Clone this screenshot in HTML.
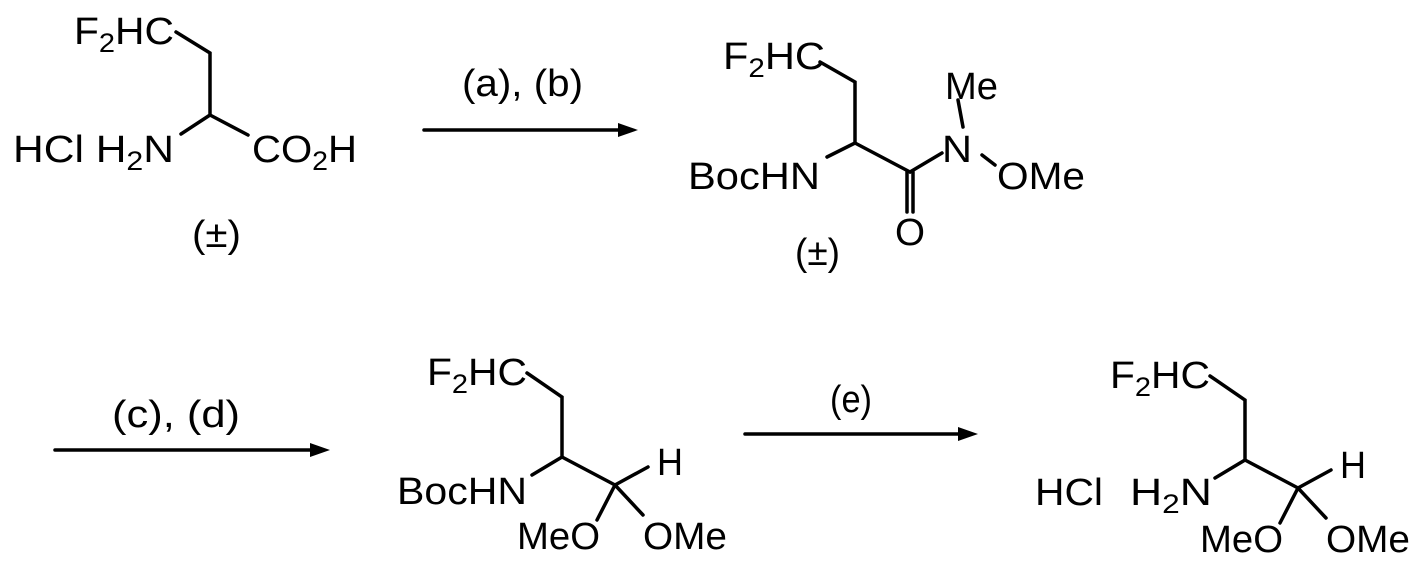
<!DOCTYPE html>
<html><head><meta charset="utf-8"><style>
html,body{margin:0;padding:0;background:#fff;}
svg{display:block;}
text{font-family:"Liberation Sans",Arial,sans-serif;font-size:38px;fill:#000;}
</style></head><body>
<svg width="1425" height="565" viewBox="0 0 1425 565" xmlns="http://www.w3.org/2000/svg">
<g stroke="#000" stroke-width="3.5" fill="none" stroke-linecap="round">
<polyline points="176,32 210,53 210,115 181,134"/>
<line x1="210" y1="115" x2="248" y2="135"/>
<line x1="424" y1="130" x2="620" y2="130"/>
<polyline points="820,62 855,82 855,143 827,157"/>
<line x1="855" y1="143" x2="910" y2="172"/>
<line x1="907" y1="172" x2="907" y2="212"/>
<line x1="913" y1="172" x2="913" y2="212"/>
<line x1="910" y1="172" x2="942" y2="153"/>
<line x1="958" y1="100" x2="963" y2="127"/>
<line x1="982" y1="155" x2="995" y2="165"/>
<line x1="55" y1="450" x2="312" y2="450"/>
<polyline points="527,373 562,397 562,457 532,475"/>
<line x1="562" y1="457" x2="615" y2="485"/>
<line x1="615" y1="485" x2="648" y2="467"/>
<line x1="615" y1="485" x2="597" y2="520"/>
<line x1="615" y1="485" x2="643" y2="515"/>
<line x1="745" y1="434" x2="960" y2="434"/>
<polyline points="1210,376 1245,400 1245,460 1215,478"/>
<line x1="1245" y1="460" x2="1298" y2="488"/>
<line x1="1298" y1="488" x2="1331" y2="470"/>
<line x1="1298" y1="488" x2="1280" y2="523"/>
<line x1="1298" y1="488" x2="1326" y2="518"/>
</g>
<g fill="#000">
<polygon points="638,130 618,123 618,137"/>
<polygon points="330,450 310,443 310,457"/>
<polygon points="978,434 958,427 958,441"/>
</g>
<text x="74" y="44" textLength="100" lengthAdjust="spacingAndGlyphs">F<tspan font-size="27" dy="8">2</tspan><tspan dy="-8">HC</tspan></text>
<text x="13" y="162" textLength="161" lengthAdjust="spacingAndGlyphs">HCl H<tspan font-size="27" dy="8">2</tspan><tspan dy="-8">N</tspan></text>
<text x="252" y="162" textLength="105" lengthAdjust="spacingAndGlyphs">CO<tspan font-size="27" dy="8">2</tspan><tspan dy="-8">H</tspan></text>
<text x="192" y="247" textLength="49" lengthAdjust="spacingAndGlyphs">(±)</text>
<text x="462" y="96" textLength="121" lengthAdjust="spacingAndGlyphs">(a), (b)</text>
<text x="723" y="69" textLength="102" lengthAdjust="spacingAndGlyphs">F<tspan font-size="27" dy="8">2</tspan><tspan dy="-8">HC</tspan></text>
<text x="945" y="99" textLength="53" lengthAdjust="spacingAndGlyphs">Me</text>
<text x="942" y="162" textLength="30" lengthAdjust="spacingAndGlyphs">N</text>
<text x="997" y="189" textLength="88" lengthAdjust="spacingAndGlyphs">OMe</text>
<text x="688" y="189" textLength="132" lengthAdjust="spacingAndGlyphs">BocHN</text>
<text x="895" y="245" textLength="30" lengthAdjust="spacingAndGlyphs">O</text>
<text x="795" y="265" textLength="45" lengthAdjust="spacingAndGlyphs">(±)</text>
<text x="112" y="427" textLength="128" lengthAdjust="spacingAndGlyphs">(c), (d)</text>
<text x="830" y="412" textLength="42" lengthAdjust="spacingAndGlyphs">(e)</text>
<text x="427" y="385" textLength="100" lengthAdjust="spacingAndGlyphs">F<tspan font-size="27" dy="8">2</tspan><tspan dy="-8">HC</tspan></text>
<text x="397" y="504" textLength="130" lengthAdjust="spacingAndGlyphs">BocHN</text>
<text x="657" y="475" textLength="26" lengthAdjust="spacingAndGlyphs">H</text>
<text x="517" y="549" textLength="83" lengthAdjust="spacingAndGlyphs">MeO</text>
<text x="643" y="549" textLength="84" lengthAdjust="spacingAndGlyphs">OMe</text>
<text x="1110" y="388" textLength="100" lengthAdjust="spacingAndGlyphs">F<tspan font-size="27" dy="8">2</tspan><tspan dy="-8">HC</tspan></text>
<text x="1035" y="505" textLength="68" lengthAdjust="spacingAndGlyphs">HCl</text>
<text x="1130" y="505" textLength="82" lengthAdjust="spacingAndGlyphs">H<tspan font-size="27" dy="8">2</tspan><tspan dy="-8">N</tspan></text>
<text x="1340" y="478" textLength="26" lengthAdjust="spacingAndGlyphs">H</text>
<text x="1200" y="552" textLength="83" lengthAdjust="spacingAndGlyphs">MeO</text>
<text x="1326" y="552" textLength="84" lengthAdjust="spacingAndGlyphs">OMe</text>
</svg>
</body></html>
